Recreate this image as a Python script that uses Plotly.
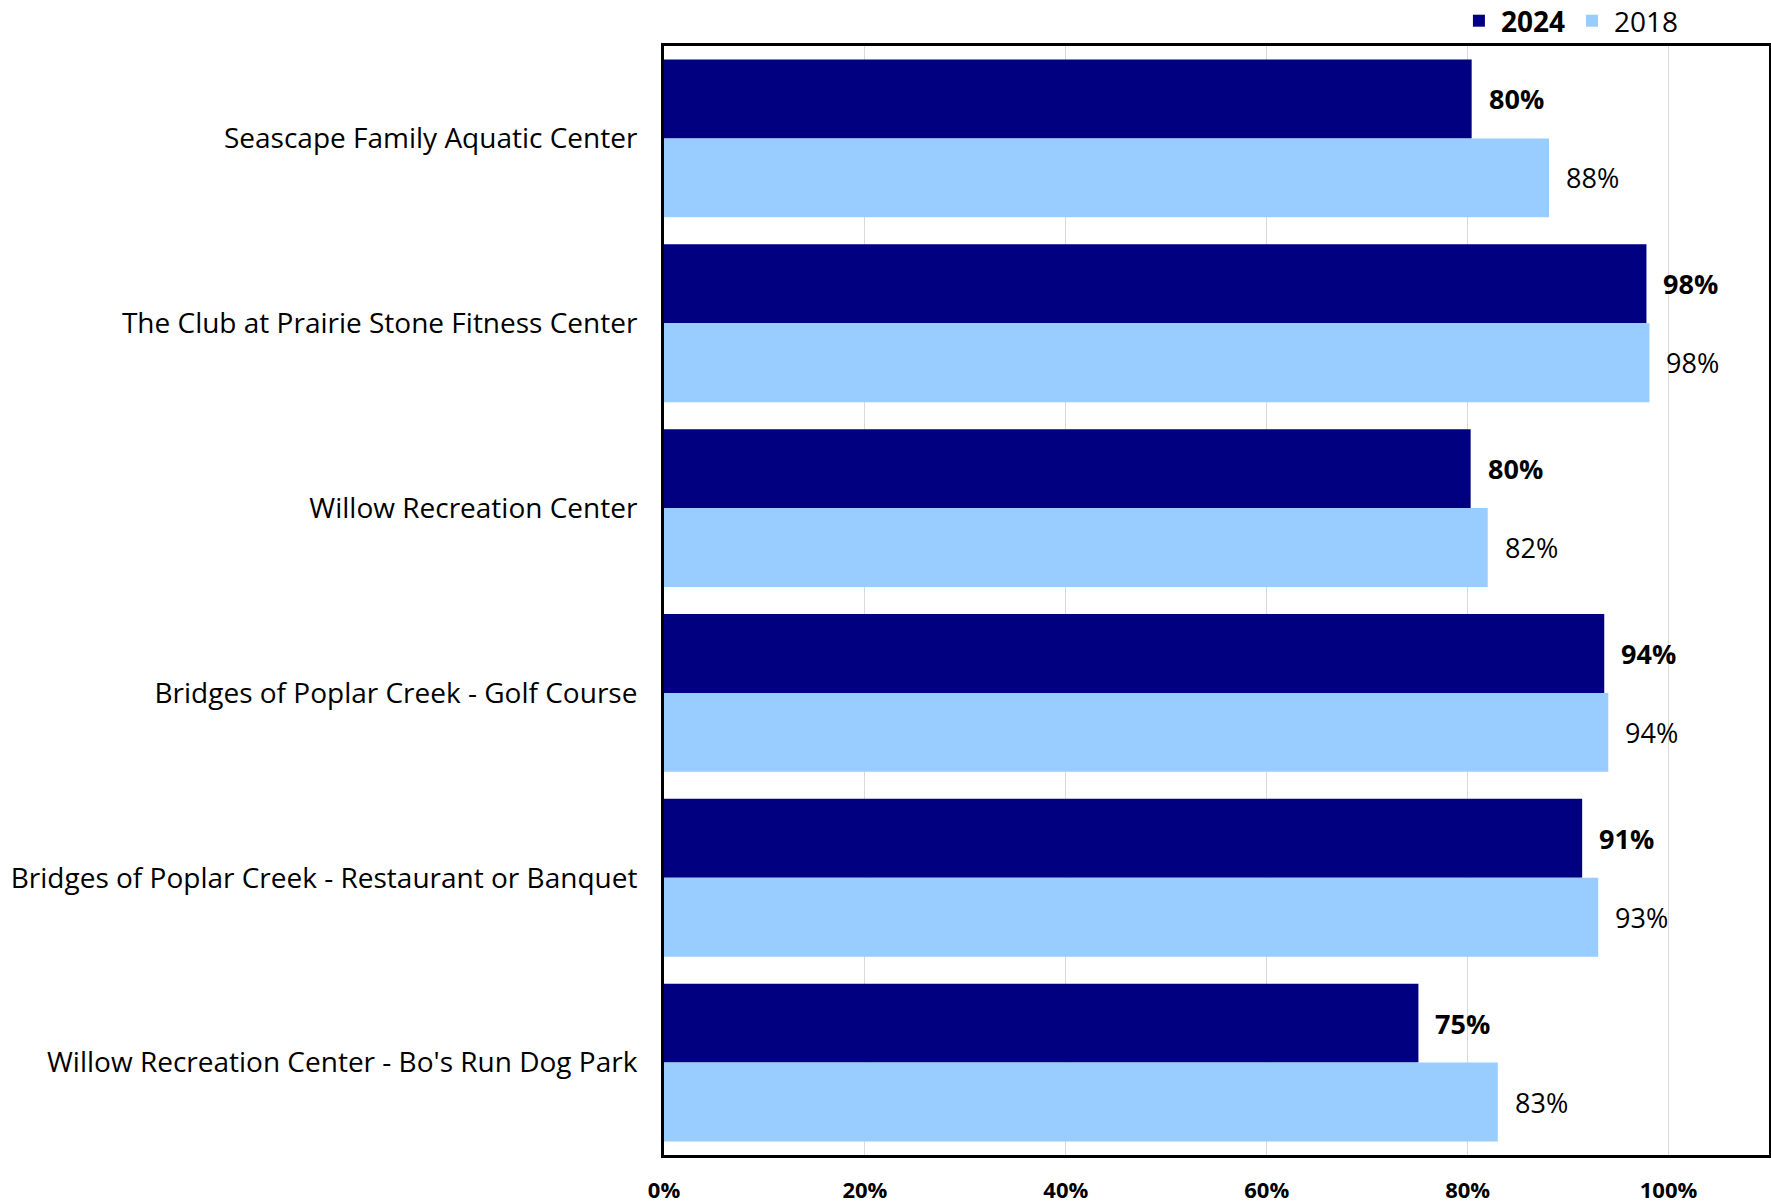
import plotly.graph_objects as go

categories = [
    "Seascape Family Aquatic Center",
    "The Club at Prairie Stone Fitness Center",
    "Willow Recreation Center",
    "Bridges of Poplar Creek - Golf Course",
    "Bridges of Poplar Creek - Restaurant or Banquet",
    "Willow Recreation Center - Bo's Run Dog Park",
]
values_2024 = [0.804, 0.978, 0.803, 0.936, 0.914, 0.751]
values_2018 = [0.881, 0.981, 0.820, 0.940, 0.930, 0.830]
tick_vals = [0, 0.2, 0.4, 0.6, 0.8, 1.0]
tick_text = ["0%", "20%", "40%", "60%", "80%", "100%"]

FONT = "Open Sans"
DARK = "#000080"
LIGHT = "#99CCFF"

fig = go.Figure()
fig.add_trace(go.Bar(y=categories, x=values_2024, orientation="h", name="<b>2024</b>",
                     marker=dict(color=DARK, line=dict(width=0))))
fig.add_trace(go.Bar(y=categories, x=values_2018, orientation="h", name="2018",
                     marker=dict(color=LIGHT, line=dict(width=0))))

W, H = 1771, 1204
ML, MR, MT, MB = 664, 2, 46, 49
BARGAP = 0.146
n = len(categories)
plot_h = H - MT - MB
cat_h = plot_h / n
bar_h = cat_h * (1 - BARGAP) / 2

annotations = []
for cat, v in zip(categories, values_2024):
    annotations.append(dict(x=v, y=cat, xref="x", yref="y", text="<b>%d%%</b>" % round(v * 100),
                            showarrow=False, xanchor="left", xshift=15, yshift=bar_h / 2,
                            font=dict(family=FONT, size=27, color="black")))
for cat, v in zip(categories, values_2018):
    annotations.append(dict(x=v, y=cat, xref="x", yref="y", text="%d%%" % round(v * 100),
                            showarrow=False, xanchor="left", xshift=15, yshift=-bar_h / 2,
                            font=dict(family=FONT, size=27, color="black")))

fig.update_layout(
    annotations=annotations,
    width=W, height=H,
    margin=dict(l=ML, r=MR, t=MT, b=MB, autoexpand=False),
    paper_bgcolor="white", plot_bgcolor="white",
    barmode="group", bargap=BARGAP, bargroupgap=0,
    font=dict(family=FONT, color="black"),
    showlegend=True,
    legend=dict(orientation="h", x=0.923, xanchor="right", y=1 + 25 / plot_h, yanchor="middle",
                font=dict(family=FONT, size=28, color="black"), traceorder="normal",
                bgcolor="rgba(0,0,0,0)", itemwidth=34),
    xaxis=dict(range=[0, 1.1], tickvals=tick_vals, ticktext=tick_text,
               tickfont=dict(family=FONT, size=22, color="black", weight="bold"),
               showgrid=True, gridcolor="#D9D9D9", gridwidth=1.3,
               showline=True, linecolor="black", linewidth=3, mirror=True,
               zeroline=False, ticks="", ticklabelstandoff=14, fixedrange=True),
    yaxis=dict(autorange="reversed", tickfont=dict(family=FONT, size=28, color="black"),
               showline=True, linecolor="black", linewidth=3, mirror=True,
               showgrid=False, ticks="", ticklabelstandoff=18, fixedrange=True),
)

fig.write_html("out.html", config={"displayModeBar": False},
               post_script="document.body.style.margin='0';document.body.style.overflow='hidden';")
